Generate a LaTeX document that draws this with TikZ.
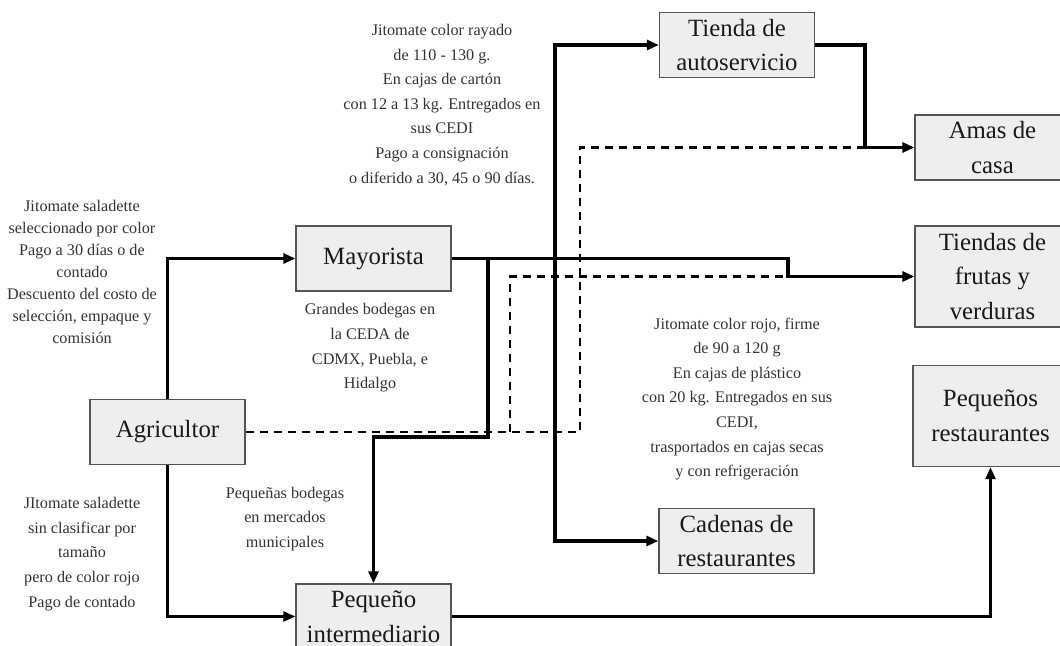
\documentclass[tikz,border=0pt]{standalone}
\usepackage{fontspec}
\setmainfont{Liberation Serif}
\usepackage{tikz}
\usetikzlibrary{arrows.meta}
\definecolor{boxfill}{HTML}{EEEEEE}
\definecolor{boxline}{HTML}{555555}
\definecolor{notetext}{HTML}{333333}

\begin{document}
\begin{tikzpicture}[x = 0.5pt, y = -0.5pt,
  box/.style = {draw = boxline, line width = 0.7pt, fill = boxfill, text = black!90,
    minimum width = 77.5pt, minimum height = 32.5pt, inner sep = 1pt, align = center,
    font = \fontsize{12.4}{17.3}\selectfont},
  tallbox/.style = {box, minimum height = 50.5pt},
  note/.style = {text = notetext, align = center, font = \fontsize{8.1}{12.3}\selectfont},
  flow/.style = {line width = 1.8pt, -{Triangle[length = 6pt, width = 5pt]}},
  thinflow/.style = {line width = 1.2pt, -{Triangle[length = 6pt, width = 5pt]}},
  dashline/.style = {line width = 1.1pt, dash pattern = on 4pt off 3pt}]
%\draw[very thin, color = gray](0, 0) grid[step = 50] (1060, 646);
\useasboundingbox (0, 0) rectangle (1060, 646);

\node [box] (agri) at (167.5, 432) {Agricultor};
\node [box] (mayo) at (373.5, 258.5) {Mayorista};
\node [box] (auto) at (737, 45) {Tienda de\\autoservicio};
\node [box] (amas) at (992.5, 147.5) {Amas de\\casa};
\node [tallbox] (frutas) at (992.5, 276.5) {Tiendas de\\frutas y\\verduras};
\node [tallbox] (rest) at (990.5, 416) {Pequeños\\restaurantes};
\node [box] (cadenas) at (736.5, 541) {Cadenas de\\restaurantes};
\node [box] (peq) at (373.5, 616.5) {Pequeño\\intermediario};

\node [note, font = \fontsize{8.1}{11}\selectfont] (selec) at (82, 272) {Jitomate saladette\\seleccionado por color\\Pago a 30 días o de\\contado\\Descuento del costo de\\selección, empaque y\\comisión};
\node [note] (rayado) at (442, 105) {Jitomate color rayado\\de 110 - 130 g.\\En cajas de cartón\\con 12 a 13 kg. Entregados en\\sus CEDI\\Pago a consignación\\o diferido a 30, 45 o 90 días.};
\node [note] (ceda) at (370, 348) {Grandes bodegas en\\la CEDA de\\CDMX, Puebla, e\\Hidalgo};
\node [note] (mercados) at (285, 519) {Pequeñas bodegas\\en mercados\\municipales};
\node [note] (sinclas) at (82, 554) {JItomate saladette\\sin clasificar por\\tamaño\\pero de color rojo\\Pago de contado};
\node [note] (rojo) at (737, 399) {Jitomate color rojo, firme\\de 90 a 120 g\\En cajas de plástico\\con 20 kg. Entregados en sus\\CEDI,\\trasportados en cajas secas\\y con refrigeración};

\coordinate (jfr) at (788, 276.5);
\coordinate (jam) at (865, 147.5);
\coordinate (bauto) at (555, 258.5);
\coordinate (bpeq) at (488, 258.5);
\coordinate (kpeq) at (488, 437);
\coordinate (dam) at (580, 432);
\coordinate (dfr) at (510, 432);

\draw [dashline] (agri.east) -- (dam) |- (jam);
\draw [dashline] (dfr) |- (jfr);

\draw [flow] (agri.north) |- (mayo.west);
\draw [thinflow] (agri.south) |- (peq.west);
\draw [flow] (mayo.east) -| (jfr) -- (frutas.west);
\draw [flow] (bauto) |- (auto.west);
\draw [flow] (bauto) |- (cadenas.west);
\draw [flow] (bpeq) -- (kpeq) -| (peq.north);
\draw [flow] (auto.east) -| (jam) -- (amas.west);
\draw [thinflow] (peq.east) -| (rest.south);
\end{tikzpicture}
\end{document}
